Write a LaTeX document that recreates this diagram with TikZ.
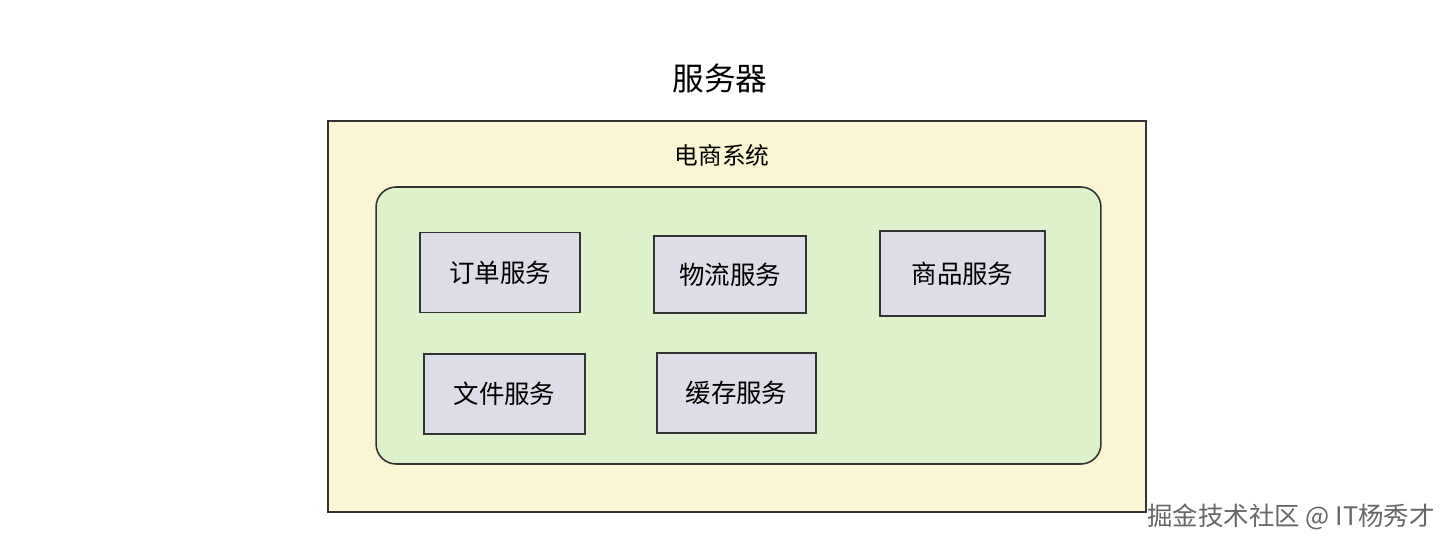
\documentclass[tikz,border=0pt]{standalone}
\usepackage{fontspec}
\setmainfont{Noto Sans CJK SC}
\usetikzlibrary{positioning}
\definecolor{hostfill}{HTML}{FAF5D2}
\definecolor{shopfill}{HTML}{DDF1CB}
\definecolor{svcfill}{HTML}{DCDDE6}

\begin{document}
\begin{tikzpicture}[x=0.02cm,y=-0.02cm,
heading/.style={font=\fontsize{18}{21}\selectfont,inner sep=0pt},
host/.style={draw=black!80,line width=0.9pt,fill=hostfill,minimum width=16.36cm,minimum height=7.82cm,inner sep=0pt},
shop/.style={draw=black!80,line width=0.9pt,fill=shopfill,rounded corners=0.4cm,minimum width=14.5cm,minimum height=5.54cm,inner sep=0pt},
svc/.style={draw=black!80,line width=0.9pt,fill=svcfill,minimum width=3.2cm,minimum height=1.6cm,inner sep=0pt,font=\fontsize{14.5}{17}\selectfont},
creditmark/.style={text=black!60,font=\fontsize{14.5}{17}\selectfont,inner sep=0pt}]
\useasboundingbox (0,0) rectangle (1448,548);
\node[heading] (title) at (720,78) {服务器};
\node[host] (server) at (737,316.5) {};
\node[heading,font=\fontsize{13.5}{16}\selectfont] (system) at (722,155) {电商系统};
\node[shop] (shop) at (738.5,325.5) {};
\node[svc] (order) at (500,272.5) {订单服务};
\node[svc,minimum width=3.04cm,minimum height=1.54cm] (logistics) at (730,274.5) {物流服务};
\node[svc,minimum width=3.3cm,minimum height=1.7cm] (goods) at (962.5,273.5) {商品服务};
\node[svc,minimum width=3.22cm] (file) at (504.5,394) {文件服务};
\node[svc,minimum width=3.18cm] (cache) at (736.5,393) {缓存服务};
\node[creditmark,anchor=west] (credit) at (1147,517) {掘金技术社区 @ IT杨秀才};
\end{tikzpicture}
\end{document}
